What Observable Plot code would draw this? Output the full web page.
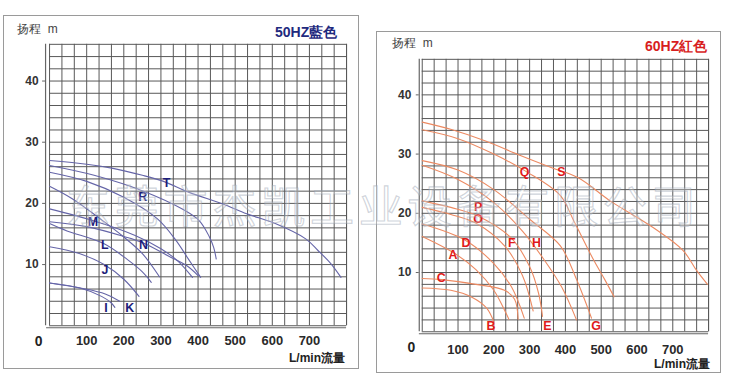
<!DOCTYPE html>
<html><head><meta charset="utf-8">
<script src="https://cdn.jsdelivr.net/npm/d3@7"></script>
<script src="https://cdn.jsdelivr.net/npm/@observablehq/plot@0.6"></script>
<style>
body{margin:0;background:#fff;width:736px;height:385px;overflow:hidden;position:relative;font-family:"Liberation Sans",Arial,sans-serif;}
.panel{position:absolute;border:1px solid #9a9a9a;box-sizing:border-box;}
.panel svg{position:absolute;left:0;top:0;}
.t{position:absolute;white-space:nowrap;line-height:1;}
.wm{position:absolute;left:66px;top:182px;font-family:"Noto Sans CJK SC";font-size:44px;letter-spacing:4.8px;color:rgba(255,255,255,0.25);-webkit-text-stroke:1.2px rgba(150,160,175,0.45);white-space:nowrap;line-height:1;pointer-events:none;}
</style></head><body>
<div id="p50" class="panel" style="left:3px;top:15px;width:356px;height:354px;"></div>
<div id="p60" class="panel" style="left:376px;top:31px;width:345px;height:342px;"></div>
<div class="t" style="left:17px;top:23px;font-size:12px;color:#444;">扬程 &nbsp;m</div>
<div class="t" style="left:275px;top:25px;font-size:14px;font-weight:bold;color:#1f2a7e;">50HZ藍色</div>
<div class="t" style="left:289px;top:352px;font-size:12px;font-weight:bold;color:#222;">L/min流量</div>
<div class="t" style="left:392px;top:37px;font-size:12px;color:#444;">扬程 &nbsp;m</div>
<div class="t" style="left:645px;top:39px;font-size:14px;font-weight:bold;color:#d81e1e;">60HZ紅色</div>
<div class="t" style="left:654px;top:358px;font-size:12px;font-weight:bold;color:#222;">L/min流量</div>
<div class="wm">东莞市杰凯工业设备有限公司</div>
<script>
// ---- axis ticks ----
const xTickLabels = [100, 200, 300, 400, 500, 600, 700];
const yTickLabels = [10, 20, 30, 40];
const xGridStep = 100 / 3;   // grid every 1/3 of 100 L/min
const yGridStep = 2;         // grid every 2 m

// ---- 50Hz curves (flow L/min, head m) ----
const T50 = [[0,27.0],[100,26.4],[164,25.8],[250,24.6],[307,23.6],[376,21.8],[467,19.9],[531,18.3],[608,16.7],[690,14.2],[723,12.3],[757,10.2],[785,7.9]];
const R50 = [[0,26.2],[120,24.6],[253,22.0],[360,19.0],[403,17.2],[430,14.6],[442,12.8],[449,10.9]];
const S50 = [[0,25.1],[100,23.6],[200,21.0],[290,17.5],[340,14.0],[375,10.8],[407,7.9]];
const U50 = [[0,22.8],[60,20.8],[136,17.5],[200,14.5],[250,11.8],[296,8.0]];
const M50 = [[0,19.1],[116,17.2],[229,14.8],[300,12.6],[345,10.6],[385,7.9]];
const N50 = [[0,17.0],[100,16.2],[200,14.6],[250,13.6],[320,11.4],[370,9.8],[400,8.2]];
const L50 = [[0,16.7],[47,15.5],[147,13.4],[210,10.8],[250,8.8],[274,7.1]];
const J50 = [[0,12.9],[80,11.8],[147,10.0],[200,7.6],[241,4.8]];
const I50 = [[0,7.0],[80,6.2],[140,4.8],[165,3.8],[176,3.0]];
const K50 = [[0,7.0],[90,6.1],[150,5.2],[189,4.0]];
const labels50 = ["T","R","M","N","L","J","I","K"];
const labelQ50 = [315, 251, 117, 253, 149, 149, 152, 216];
const labelH50 = [23.3, 21.0, 16.9, 13.2, 13.2, 9.1, 2.9, 2.9];

// ---- 60Hz curves ----
const S60 = [[0,35.4],[84,34.1],[177,32.2],[269,29.9],[362,27.7],[436,26.0],[525,22.1],[645,17.6],[729,13.7],[766,10.4],[797,8.0]];
const Q60 = [[0,34.1],[100,32.6],[200,30.0],[292,27.0],[386,23.0],[423,18.8],[479,12.1],[510,8.8],[536,5.9]];
const H60 = [[0,28.9],[100,27.3],[200,24.0],[300,19.0],[386,14.5],[430,9.0],[473,2.3]];
const G60 = [[0,28.1],[100,25.7],[200,21.8],[280,17.0],[340,12.2],[390,7.5],[431,2.0]];
const P60 = [[0,22.1],[80,21.0],[154,19.6],[249,15.8],[300,11.0],[325,6.5],[336,2.6]];
const O60 = [[0,21.0],[80,19.8],[154,18.2],[230,14.5],[280,9.5],[310,3.5]];
const D60 = [[0,18.2],[119,15.5],[200,11.5],[250,7.5],[285,2.3]];
const A60 = [[0,16.1],[89,13.3],[150,10.5],[200,7.0],[242,2.1]];
const C60 = [[0,9.0],[55,8.8],[150,8.0],[230,7.0],[258,5.5],[268,2.1]];
const B60 = [[0,7.4],[80,7.0],[140,5.8],[180,4.0],[200,1.7]];
const labels60 = ["Q","S","P","O","D","F","H","A","C","B","E","G"];
const labelQ60 = [286, 389, 156, 156, 122, 250, 319, 86, 53, 192, 350, 486];
const labelH60 = [27.0, 27.0, 21.0, 19.1, 14.9, 14.9, 14.9, 12.9, 9.1, 1.0, 1.0, 1.0];

function table(named) {
  const rows = [];
  for (const [name, pts] of named) for (const [q, h] of pts) rows.push({name, q, h});
  return rows;
}
function labelRows(names, qs, hs) { return names.map((t, i) => ({t, q: qs[i], h: hs[i]})); }

function panel(o) {
  const xg = d3.range(0, 25).map(i => i * xGridStep).concat([800]);
  const yg = d3.range(0, 47, yGridStep);
  return Plot.plot({
    width: o.width, height: o.height,
    marginLeft: o.mL, marginRight: o.mR, marginTop: o.mT, marginBottom: o.mB,
    x: {domain: [0, 800]}, y: {domain: [0, 46]},
    style: {background: "transparent", fontFamily: "Liberation Sans, Arial, sans-serif", overflow: "visible"},
    marks: [
      Plot.gridX(xg, {stroke: "#585858", strokeOpacity: 1, strokeWidth: 1}),
      Plot.gridY(yg, {stroke: "#585858", strokeOpacity: 1, strokeWidth: 1}),
      Plot.ruleX([0], {dx: o.axDx, stroke: "#666", strokeWidth: 1.2}),
      Plot.ruleY([0], {x1: o.x1, x2: 800, dy: 2, stroke: "#666", strokeWidth: 1.2}),
      Plot.axisY(yTickLabels, {anchor: "left", label: null, tickSize: 3, tickPadding: o.yPad, dx: o.axDx, fontSize: 12, fontWeight: "bold", fill: "#333", stroke: "#666"}),
      Plot.axisX(xTickLabels, {anchor: "bottom", label: null, tickSize: 0, tickPadding: o.xPad, fontSize: o.xFont, fontWeight: "bold", fill: "#2a2a2a"}),
      Plot.text(["0"], {x: 0, y: 0, text: d => d, dx: -11, dy: o.zeroDy, fontSize: 14, fontWeight: "bold", fill: "#222"}),
      Plot.line(o.data, {x: "q", y: "h", z: "name", stroke: o.color, strokeWidth: 1.1, curve: "catmull-rom"}),
      Plot.text(o.labels, {x: "q", y: "h", text: "t", fill: o.labelColor, fontSize: 12.5, fontWeight: "bold"})
    ]
  });
}

const data50 = table([["T",T50],["R",R50],["S",S50],["U",U50],["M",M50],["N",N50],["L",L50],["J",J50],["I",I50],["K",K50]]);
const data60 = table([["S",S60],["Q",Q60],["H",H60],["G",G60],["P",P60],["O",O60],["D",D60],["A",A60],["C",C60],["B",B60]]);

document.getElementById("p50").appendChild(panel({
  width: 356, height: 354, mL: 45.3, mR: 12, mT: 28, mB: 43,
  axDx: -4, x1: -8, yPad: 4, xPad: 10, xFont: 13, zeroDy: 16,
  data: data50, color: "#6565a8", labels: labelRows(labels50, labelQ50, labelH50), labelColor: "#1c1c7a"
}));
document.getElementById("p60").appendChild(panel({
  width: 345, height: 342, mL: 45, mR: 12, mT: 27, mB: 41,
  axDx: -3, x1: -8, yPad: 5, xPad: 13, xFont: 13, zeroDy: 16,
  data: data60, color: "#ec8a62", labels: labelRows(labels60, labelQ60, labelH60), labelColor: "#e01a1a"
}));
</script>
</body></html>
